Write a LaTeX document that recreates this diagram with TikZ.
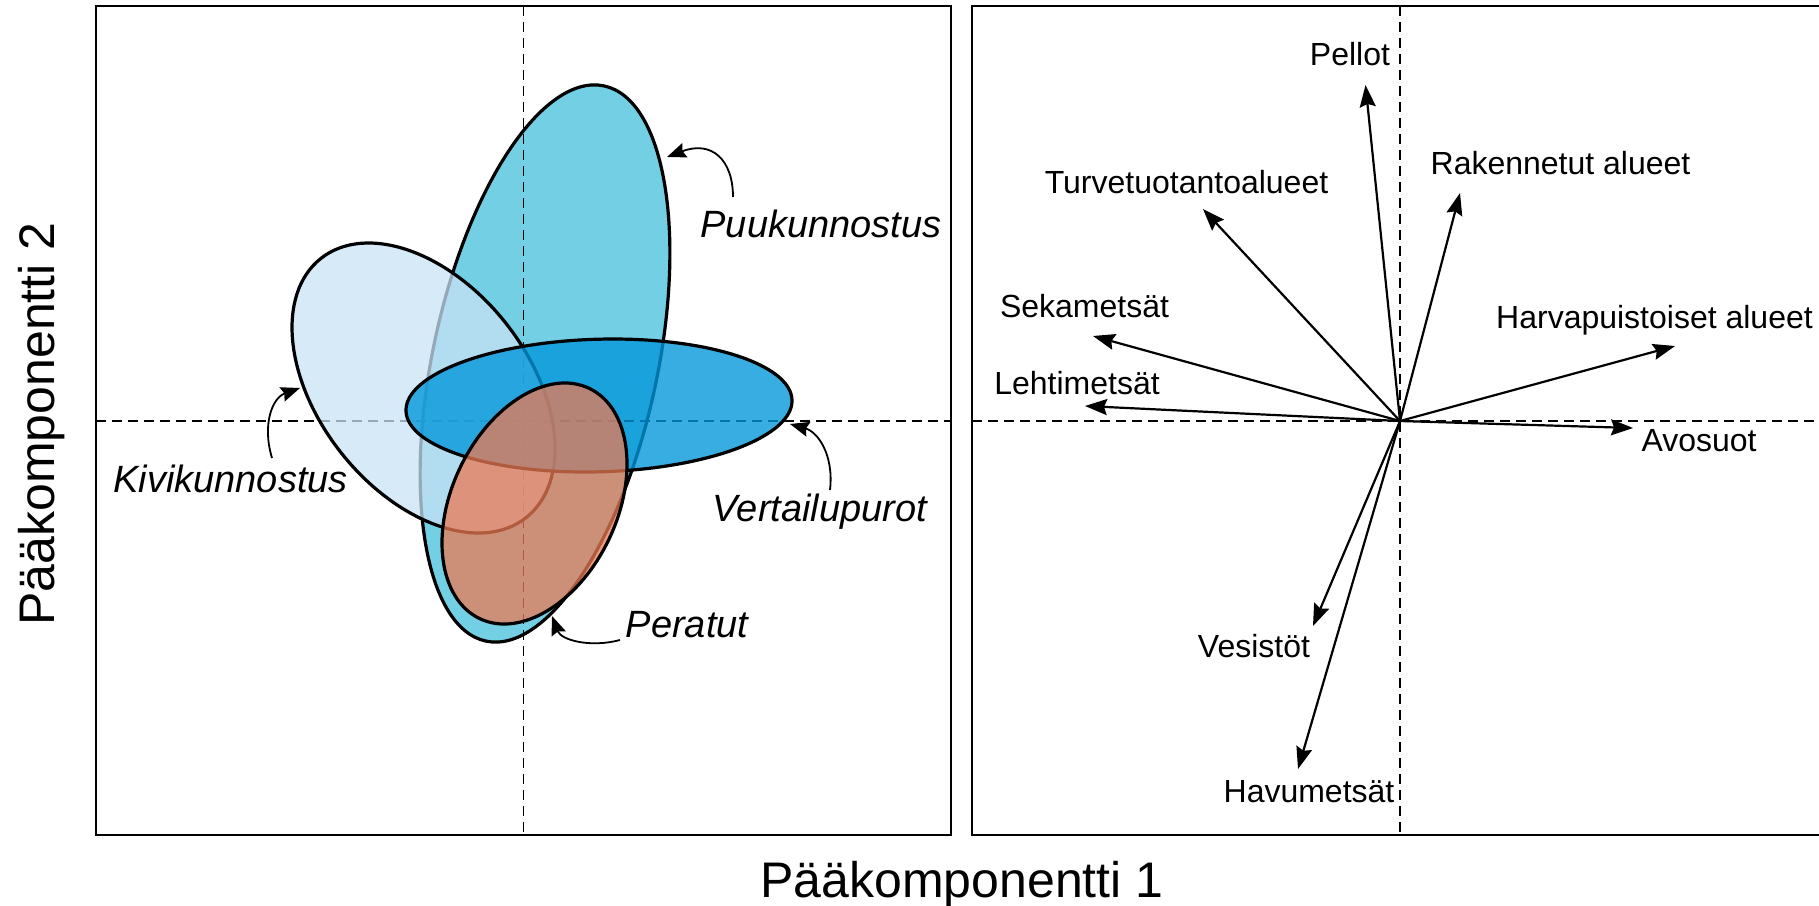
\documentclass[tikz,border=0pt]{standalone}
\usepackage{fontspec}
\setmainfont{Liberation Sans}
\usetikzlibrary{arrows.meta}
\definecolor{puuC}{RGB}{114,207,228}
\definecolor{kiviC}{RGB}{200,227,246}
\definecolor{vertC}{RGB}{0,150,218}
\definecolor{perC}{RGB}{235,122,84}
\begin{document}
\begin{tikzpicture}[x=1pt,y=-1pt,
  panel/.style={line width=2.2pt},
  axisdash/.style={line width=1.9pt, dash pattern=on 10pt off 6pt},
  ell/.style={line width=3.2pt, draw=black},
  vec/.style={line width=2.2pt, -{Stealth[length=22pt,width=16pt,inset=3pt]}},
  callout/.style={line width=1.8pt, -{Stealth[length=19pt,width=15pt,inset=2.5pt]}},
  vlabel/.style={font=\fontsize{32}{38}\selectfont, anchor=base, inner sep=0pt},
  glabel/.style={font=\fontsize{38}{45}\selectfont\itshape, anchor=base, inner sep=0pt},
  axlabel/.style={font=\fontsize{50}{60}\selectfont, anchor=base, inner sep=0pt}]
\useasboundingbox (0,0) rectangle (1819,905);
\fill[white] (0,0) rectangle (1819,905);

% ---------- left panel ----------
\draw[ell, fill=puuC, rotate around={-12:(545,363.5)}] (545,363.5) ellipse [x radius=112.5pt, y radius=283.8pt];
\draw[axisdash] (523.5,6) -- (523.5,835);
\draw[axisdash] (96,421) -- (951,421);
\draw[ell, fill=kiviC, fill opacity=0.745, rotate around={-51.6:(423.5,388)}] (423.5,388) ellipse [x radius=165.3pt, y radius=104.8pt];
\draw[ell, fill=vertC, fill opacity=0.78, rotate around={1.6:(599,405.5)}] (599,405.5) ellipse [x radius=193.1pt, y radius=66.3pt];
\draw[ell, fill=perC, fill opacity=0.75, rotate around={-25.4:(534.5,503.5)}] (534.5,503.5) ellipse [x radius=82.6pt, y radius=127.5pt];
\draw[panel] (96,6) rectangle (951,835);

\node[glabel] (puu) at (821,237) {Puukunnostus};
\node[glabel] (kivi) at (230.5,492) {Kivikunnostus};
\node[glabel] (vert) at (820,521) {Vertailupurot};
\node[glabel] (per) at (687,637) {Peratut};

\coordinate (puuT) at (733,197);  \coordinate (puuH) at (667,157);
\coordinate (kiviT) at (272,458); \coordinate (kiviH) at (300,388);
\coordinate (vertT) at (830,490); \coordinate (vertH) at (790,424);
\coordinate (perT) at (620,640);  \coordinate (perH) at (552,616);
\draw[callout] (puuT) .. controls (733,160) and (712,140) .. (puuH);
\draw[callout] (kiviT) .. controls (262,425) and (272,398) .. (kiviH);
\draw[callout] (vertT) .. controls (834,455) and (818,432) .. (vertH);
\draw[callout] (perT) .. controls (590,648) and (561,640) .. (perH);

% ---------- right panel ----------
\draw[axisdash] (1400,6) -- (1400,835);
\draw[axisdash] (972,421) -- (1819,421);
\draw[panel] (972,6) rectangle (1825,835);

\coordinate (O) at (1400,421);
\coordinate (pel) at (1365.5,85);
\coordinate (rak) at (1460,193);
\coordinate (tur) at (1203,209);
\coordinate (sek) at (1093,336);
\coordinate (leh) at (1085,406);
\coordinate (har) at (1675,346);
\coordinate (avo) at (1633,428);
\coordinate (ves) at (1313,626);
\coordinate (hav) at (1298,769);
\foreach \t in {pel,rak,tur,sek,leh,har,avo,ves,hav}
  \draw[vec] (O) -- (\t);

\node[vlabel] (lpel) at (1350,65) {Pellot};
\node[vlabel] (lrak) at (1560.5,174) {Rakennetut alueet};
\node[vlabel] (ltur) at (1186.5,193) {Turvetuotantoalueet};
\node[vlabel] (lsek) at (1084.5,317) {Sekametsät};
\node[vlabel] (lleh) at (1077,394) {Lehtimetsät};
\node[vlabel] (lhar) at (1654.5,328) {Harvapuistoiset alueet};
\node[vlabel] (lavo) at (1699,451) {Avosuot};
\node[vlabel] (lves) at (1254,657) {Vesistöt};
\node[vlabel] (lhav) at (1309,802) {Havumetsät};

% ---------- axis titles ----------
\node[axlabel] (ax1) at (962,897) {Pääkomponentti 1};
\node[axlabel, rotate=90] (ax2) at (54,424) {Pääkomponentti 2};
\end{tikzpicture}
\end{document}
